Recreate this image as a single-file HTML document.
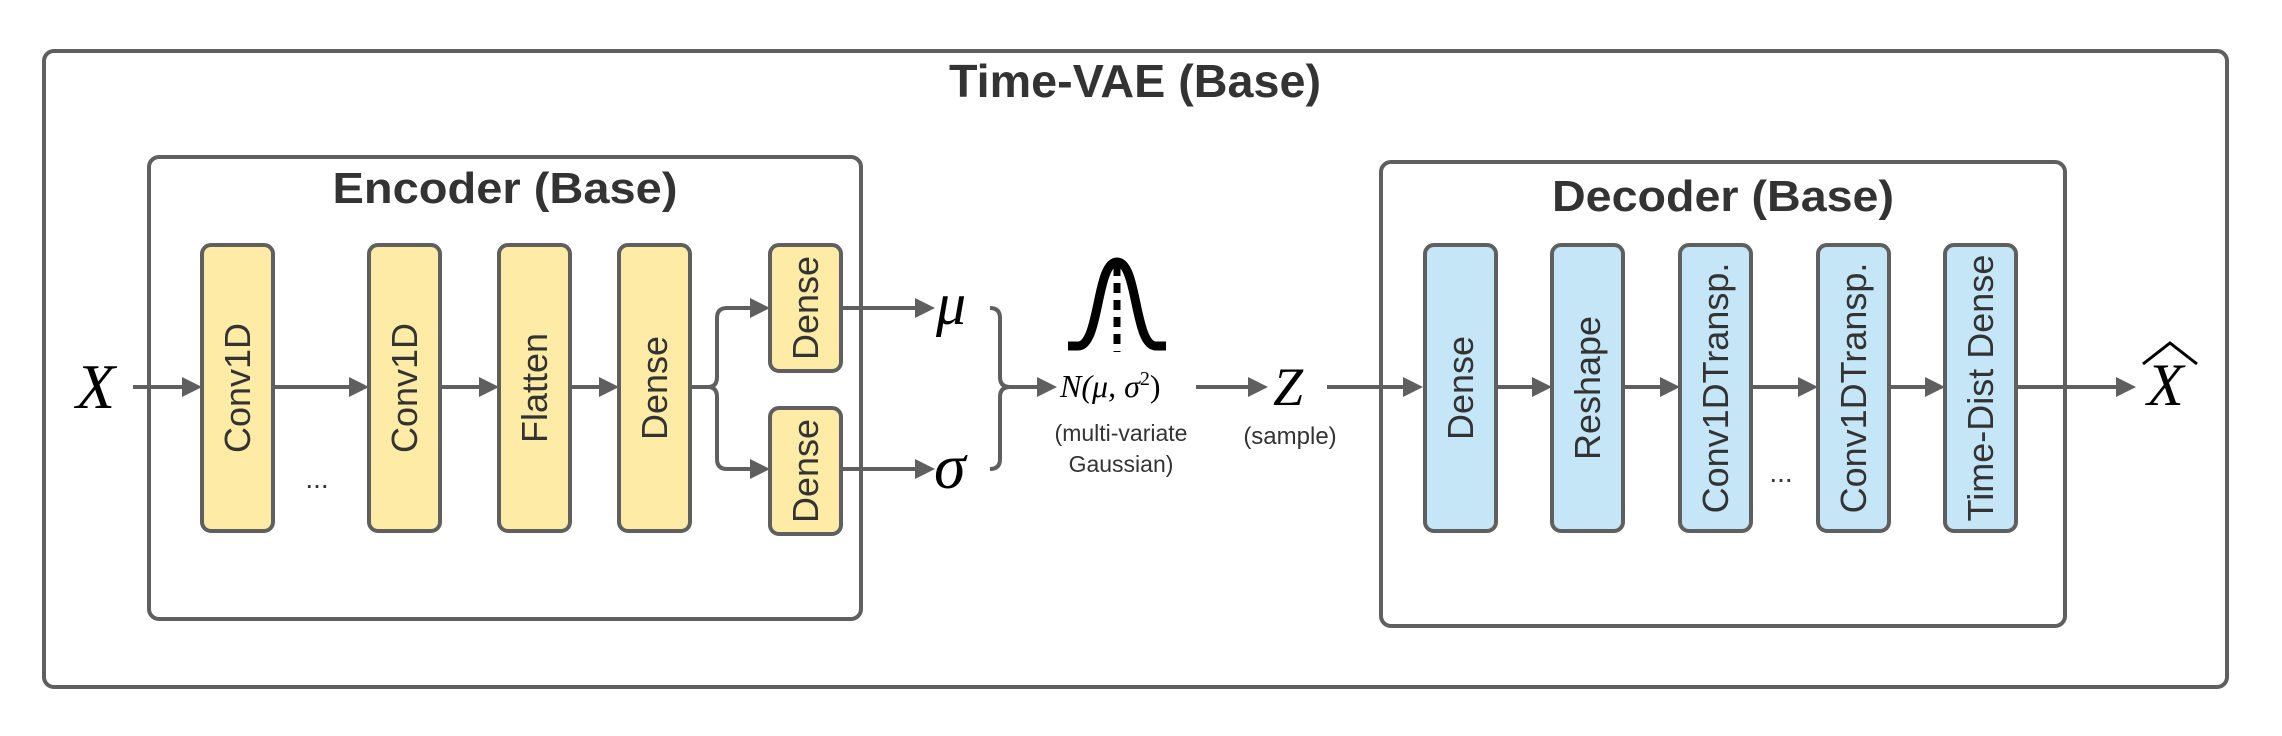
<!DOCTYPE html>
<html><head><meta charset="utf-8"><style>
html,body{margin:0;padding:0;background:#fff;}
svg{display:block;}
.t{font-family:"Liberation Sans",sans-serif;fill:#333;}
.b{font-family:"Liberation Sans",sans-serif;font-size:36px;fill:#333;}
.m{font-family:"Liberation Serif",serif;font-style:italic;fill:#000;}
</style></head><body>
<svg width="2282" height="736" viewBox="0 0 2282 736" xmlns="http://www.w3.org/2000/svg">
<g fill="none" stroke="#5f5f5f" stroke-width="4">
<rect x="44" y="51" width="2183" height="636" rx="10"/>
<rect x="149" y="157" width="712" height="462" rx="10"/>
<rect x="1381" y="162" width="684" height="464" rx="10"/>
</g>
<text class="t" x="1135" y="97" font-size="46" font-weight="bold" text-anchor="middle" textLength="372" lengthAdjust="spacingAndGlyphs">Time-VAE (Base)</text>
<text class="t" x="505" y="203" font-size="44" font-weight="bold" text-anchor="middle" textLength="345" lengthAdjust="spacingAndGlyphs">Encoder (Base)</text>
<text class="t" x="1723" y="211" font-size="44" font-weight="bold" text-anchor="middle" textLength="342" lengthAdjust="spacingAndGlyphs">Decoder (Base)</text>

<g fill="#fdeba6" stroke="#5f5f5f" stroke-width="4">
<rect x="202" y="245" width="71" height="286" rx="9"/>
<rect x="369" y="245" width="71" height="286" rx="9"/>
<rect x="499" y="245" width="71" height="286" rx="9"/>
<rect x="619" y="245" width="71" height="286" rx="9"/>
<rect x="770" y="245" width="71" height="126" rx="9"/>
<rect x="770" y="408" width="71" height="126" rx="9"/>
</g>
<g fill="#c5e6f7" stroke="#5f5f5f" stroke-width="4">
<rect x="1425" y="245" width="71" height="286" rx="9"/>
<rect x="1552" y="245" width="71" height="286" rx="9"/>
<rect x="1680" y="245" width="71" height="286" rx="9"/>
<rect x="1818" y="245" width="71" height="286" rx="9"/>
<rect x="1945" y="245" width="71" height="286" rx="9"/>
</g>
<g class="b" text-anchor="middle">
<text transform="translate(250,388) rotate(-90)">Conv1D</text>
<text transform="translate(417,388) rotate(-90)">Conv1D</text>
<text transform="translate(547,388) rotate(-90)">Flatten</text>
<text transform="translate(667,388) rotate(-90)">Dense</text>
<text transform="translate(818,308) rotate(-90)">Dense</text>
<text transform="translate(818,471) rotate(-90)">Dense</text>
<text transform="translate(1473,388) rotate(-90)">Dense</text>
<text transform="translate(1600,388) rotate(-90)">Reshape</text>
<text transform="translate(1728,388) rotate(-90)">Conv1DTransp.</text>
<text transform="translate(1866,388) rotate(-90)">Conv1DTransp.</text>
<text transform="translate(1993,388) rotate(-90)">Time-Dist Dense</text>
</g>
<text class="t" x="317" y="488" font-size="28" text-anchor="middle">...</text>
<text class="t" x="1781" y="482" font-size="28" text-anchor="middle">...</text>

<g fill="none" stroke="#5f5f5f" stroke-width="4">
<line x1="133" y1="387" x2="184" y2="387"/>
<line x1="273" y1="387" x2="351" y2="387"/>
<line x1="440" y1="387" x2="481" y2="387"/>
<line x1="570" y1="387" x2="601" y2="387"/>
<path d="M690 387 H708 Q717 387 717 377 V318 Q717 308 727 308 H752"/>
<path d="M690 387 H708 Q717 387 717 397 V459 Q717 469 727 469 H752"/>
<line x1="841" y1="308" x2="915" y2="308"/>
<line x1="841" y1="469" x2="915" y2="469"/>
<path d="M990 308 Q1000 308 1000 318 V377 Q1000 387 1010 387 H1037 M1010 387 Q1000 387 1000 397 V459 Q1000 469 990 469"/>
<line x1="1196" y1="387" x2="1248" y2="387"/>
<line x1="1327" y1="387" x2="1403" y2="387"/>
<line x1="1496" y1="387" x2="1534" y2="387"/>
<line x1="1623" y1="387" x2="1662" y2="387"/>
<line x1="1751" y1="387" x2="1800" y2="387"/>
<line x1="1889" y1="387" x2="1927" y2="387"/>
<line x1="2016" y1="387" x2="2116" y2="387"/>
</g>
<g fill="#5f5f5f">
<path d="M202 387 l-20 -10 v20z"/>
<path d="M369 387 l-20 -10 v20z"/>
<path d="M499 387 l-20 -10 v20z"/>
<path d="M619 387 l-20 -10 v20z"/>
<path d="M770 308 l-20 -10 v20z"/>
<path d="M770 469 l-20 -10 v20z"/>
<path d="M935 308 l-20 -10 v20z"/>
<path d="M935 469 l-20 -10 v20z"/>
<path d="M1057 387 l-20 -10 v20z"/>
<path d="M1268 387 l-20 -10 v20z"/>
<path d="M1423 387 l-20 -10 v20z"/>
<path d="M1552 387 l-20 -10 v20z"/>
<path d="M1680 387 l-20 -10 v20z"/>
<path d="M1818 387 l-20 -10 v20z"/>
<path d="M1945 387 l-20 -10 v20z"/>
<path d="M2136 387 l-20 -10 v20z"/>
</g>

<text class="m" x="76" y="408" font-size="64">X</text>
<text class="m" x="936" y="324" font-size="60">μ</text>
<text class="m" x="934" y="488" font-size="64">σ</text>
<text class="m" x="1273" y="405" font-size="54">Z</text>
<text class="m" x="2147" y="405" font-size="60">X</text>
<path d="M2143 364 L2170 343 L2197 364" fill="none" stroke="#000" stroke-width="3"/>
<text class="m" x="1060" y="397" font-size="32">N(μ, σ<tspan font-size="20" dy="-12" font-style="normal">2</tspan><tspan dy="12" font-style="normal">)</tspan></text>

<path d="M1068 346 H1078 C1100 346 1096 262 1117 262 C1138 262 1134 346 1156 346 H1166" fill="none" stroke="#000" stroke-width="9"/>
<line x1="1117" y1="266" x2="1117" y2="352" stroke="#000" stroke-width="7" stroke-dasharray="10,7"/>

<text class="t" x="1121" y="441" font-size="23" text-anchor="middle">(multi-variate</text>
<text class="t" x="1121" y="472" font-size="23" text-anchor="middle">Gaussian)</text>
<text class="t" x="1290" y="444" font-size="24" text-anchor="middle">(sample)</text>
</svg>
</body></html>
